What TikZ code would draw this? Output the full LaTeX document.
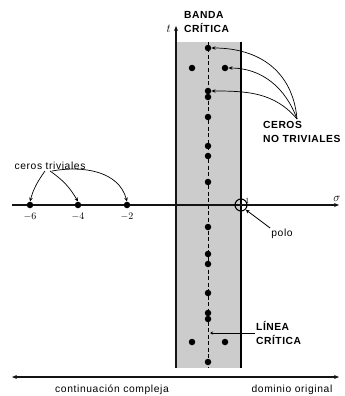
\documentclass[tikz,border=0pt]{standalone}
\usepackage{amsmath,amssymb}
\usepackage{fontspec}
\usepackage{xcolor}
\usepackage{tikz}
\usetikzlibrary{arrows.meta,positioning,calc}
\newfontfamily\labfont[LetterSpace=6]{Liberation Sans}
\newfontfamily\blabfont[LetterSpace=5]{Liberation Sans Bold}
\definecolor{BandGray}{RGB}{204,204,204}
\definecolor{AxisC}{RGB}{20,20,20}
\tikzset{
  zero/.style={circle,fill=black,minimum size=6.5pt,inner sep=0pt},
  pole/.style={circle,draw=black,line width=1.1pt,minimum size=12pt,inner sep=0pt},
  axis/.style={line width=1.1pt,AxisC},
  tag/.style={font=\labfont\fontsize{10.3}{12}\selectfont,inner sep=1pt},
  btag/.style={font=\blabfont\fontsize{10.3}{14}\selectfont,align=left,inner sep=1pt},
  ptr/.style={-{Stealth[length=4pt,width=3.5pt]},line width=0.8pt},
  num/.style={font=\normalsize,inner sep=1pt},
}
\begin{document}
\begin{tikzpicture}[x=1pt,y=-1pt]
  \useasboundingbox (0,0) rectangle (345,396);

  % critical strip
  \fill[BandGray] (176,42) rectangle (241,368);
  \draw[line width=1.1pt] (241,42) -- (241,368);
  \draw[line width=0.8pt,dashed,dash pattern=on 4pt off 2.5pt] (208,42) -- (208,368);

  % axes
  \coordinate (sl) at (12,205);
  \coordinate (sr) at (339,205);
  \coordinate (tb) at (176,368);
  \coordinate (tt) at (176,26);
  \draw[axis,-{Stealth[length=5pt,width=4pt]}] (sl) -- (sr);
  \draw[axis,-{Stealth[length=5pt,width=4pt]}] (tb) -- (tt);
  \node[num,font=\large,anchor=east] (tlab) at (172,29) {$t$};
  \node[num,font=\large,anchor=south] (slab) at (337,203) {$\sigma$};

  % nontrivial zeros
  \node[zero] (n1)  at (208,48)  {};
  \node[zero] (n2)  at (192,68)  {};
  \node[zero] (n3)  at (225,68)  {};
  \node[zero] (n4)  at (208,91)  {};
  \node[zero] (n5)  at (208,97)  {};
  \node[zero] (n6)  at (208,117) {};
  \node[zero] (n7)  at (208,146) {};
  \node[zero] (n8)  at (208,156) {};
  \node[zero] (n9)  at (208,182) {};
  \node[zero] (n10) at (208,227) {};
  \node[zero] (n11) at (208,254) {};
  \node[zero] (n12) at (208,264) {};
  \node[zero] (n13) at (208,293) {};
  \node[zero] (n14) at (208,313) {};
  \node[zero] (n15) at (208,319) {};
  \node[zero] (n16) at (192,342) {};
  \node[zero] (n17) at (225,342) {};
  \node[zero] (n18) at (208,362) {};

  % trivial zeros
  \node[zero] (m6) at (30,205)  {};
  \node[zero] (m4) at (78,205)  {};
  \node[zero] (m2) at (127,205) {};
  \node[num,below=3pt of m6] (l6) {$-6$};
  \node[num,below=3pt of m4] (l4) {$-4$};
  \node[num,below=3pt of m2] (l2) {$-2$};

  % pole
  \node[pole] (p) at (241,205) {};
  \node[num,font=\footnotesize,anchor=south west] (one) at (244,205) {$1$};
  \node[tag] (polo) at (282,234) {polo};
  \draw[ptr] (polo.north west) -- (p.south east);

  % labels
  \node[btag,anchor=west] (banda) at (183,22) {BANDA\\CRÍTICA};
  \node[btag,anchor=north west] (cnt) at (262,120) {CEROS\\NO TRIVIALES};
  \node[btag,anchor=west] (lin) at (255,333) {LÍNEA\\CRÍTICA};
  \node[tag] (ctr) at (50,166) {ceros triviales};

  \coordinate (cz) at (297,119);
  \draw[line width=0.7pt,-{Stealth[length=4pt,width=3.5pt]}] (cz) to[out=95,in=0,looseness=1.1] (n1.east);
  \draw[line width=0.7pt,-{Stealth[length=4pt,width=3.5pt]}] (cz) to[out=110,in=0] (n3.east);
  \draw[line width=0.7pt,-{Stealth[length=4pt,width=3.5pt]}] (cz) to[out=130,in=0] (n4.east);

  \draw[line width=0.7pt,-{Stealth[length=3pt,width=3pt]}] (lin.west) -- (210,333);

  \draw[line width=0.7pt,-{Stealth[length=4pt,width=3.5pt]}] ($(ctr.south)+(-5,0)$) to[out=-125,in=75] (m6.north);
  \draw[line width=0.7pt,-{Stealth[length=4pt,width=3.5pt]}] ($(ctr.south)+(0,0)$) to[out=-35,in=120] (m4.north);
  \draw[line width=0.7pt,-{Stealth[length=4pt,width=3.5pt]}] ($(ctr.south)+(2,0)$) to[out=10,in=105] (m2.north);

  % domains
  \coordinate (dl) at (12,377);
  \coordinate (dr) at (339,377);
  \draw[axis,{Stealth[length=5pt,width=4pt]}-{Stealth[length=5pt,width=4pt]}] (dl) -- (dr);
  \node[tag] (cc) at (112,390) {continuación compleja};
  \node[tag] (dor) at (292,390) {dominio original};
\end{tikzpicture}
\end{document}
